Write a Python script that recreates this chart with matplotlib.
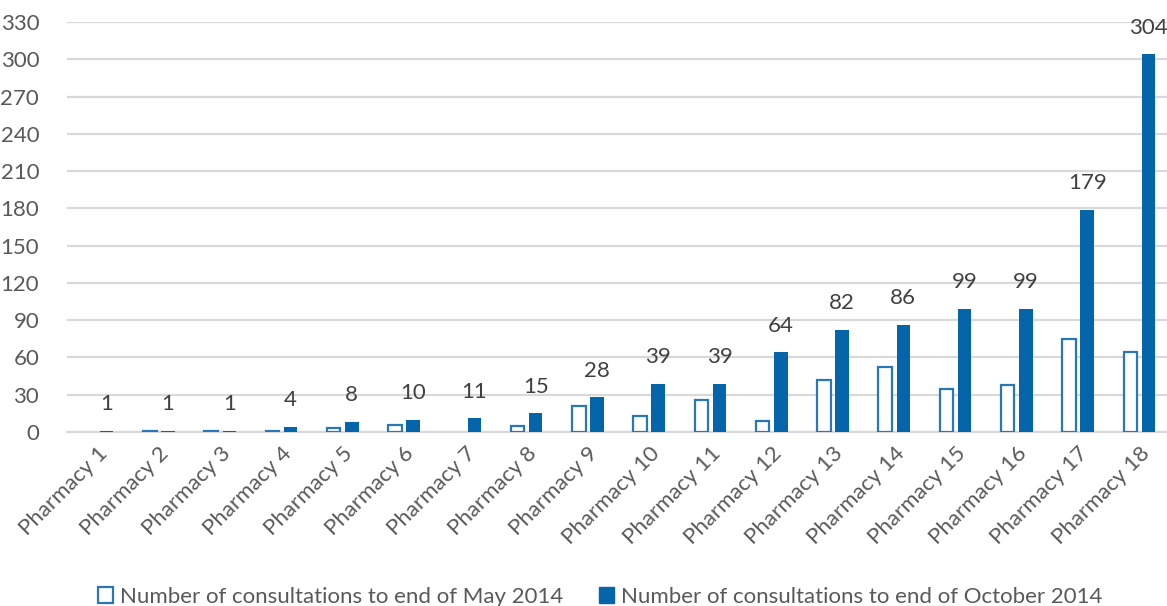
import numpy as np
import matplotlib
matplotlib.use("Agg")
import matplotlib.pyplot as plt
from matplotlib.patches import Patch

# Chart data
PHARMACIES = [f"Pharmacy {i}" for i in range(1, 19)]
MAY_2014 = [0, 1, 1, 1, 3, 6, 0, 5, 21, 13, 26, 9, 42, 52, 35, 38, 75, 64]
OCT_2014 = [1, 1, 1, 4, 8, 10, 11, 15, 28, 39, 39, 64, 82, 86, 99, 99, 179, 304]
Y_TICKS = list(range(0, 331, 30))

MAY_LABEL = "Number of consultations to end of May 2014"
OCT_LABEL = "Number of consultations to end of October 2014"

FILL_BLUE = "#0565AA"
EDGE_BLUE = "#2A77B8"
TEXT_GREY = "#595959"
LABEL_GREY = "#404040"
GRID_GREY = "#D9D9D9"

plt.rcParams["font.family"] = ["Lato", "DejaVu Sans"]

W, H = 1167, 606
fig = plt.figure(figsize=(W / 100, H / 100), dpi=100)
# axes box in pixel terms: x 67..1170, y 22..432
ax = fig.add_axes([67 / W, 1 - 432 / H, 1103 / W, 410 / H])

x = np.arange(len(PHARMACIES))
bar_w = 0.22
offset = 0.148

# zero-height bars get no outline (nothing is drawn in the original)
may_lw = [1.6 if v > 0 else 0 for v in MAY_2014]
ax.bar(x - offset, MAY_2014, width=bar_w, facecolor="white",
       edgecolor=EDGE_BLUE, linewidth=may_lw, zorder=3)
ax.bar(x + offset, OCT_2014, width=bar_w, color=FILL_BLUE, zorder=3)

# value labels on the October series only
for xi, v in zip(x, OCT_2014):
    ax.annotate(str(v), (xi + offset, v), xytext=(0, 12), textcoords="offset points",
                ha="center", va="bottom", fontsize=16, color=LABEL_GREY)

ax.set_xlim(-0.5, len(PHARMACIES) - 0.5)
ax.set_ylim(0, 330)
ax.set_yticks(Y_TICKS)
ax.yaxis.grid(True, color=GRID_GREY, linewidth=1.6, zorder=0)
ax.set_axisbelow(True)

for side in ["left", "right", "top"]:
    ax.spines[side].set_visible(False)
ax.spines["bottom"].set_color(GRID_GREY)
ax.spines["bottom"].set_linewidth(1.6)

ax.set_xticks(x)
ax.set_xticklabels(PHARMACIES, rotation=45, ha="right", rotation_mode="anchor")
ax.tick_params(axis="both", length=0, labelsize=16, labelcolor=TEXT_GREY)
ax.tick_params(axis="y", pad=20)
ax.tick_params(axis="x", pad=8)

handles = [
    Patch(facecolor="white", edgecolor=EDGE_BLUE, linewidth=1.6, label=MAY_LABEL),
    Patch(facecolor=FILL_BLUE, edgecolor=FILL_BLUE, label=OCT_LABEL),
]
leg = fig.legend(handles=handles, loc="lower center", bbox_to_anchor=(0.514, -0.034),
                 ncol=2, frameon=False, fontsize=16, handlelength=0.7,
                 handleheight=0.7, handletextpad=0.3, columnspacing=1.6)
for t in leg.get_texts():
    t.set_color(TEXT_GREY)

fig.savefig("out.png", dpi=100)
